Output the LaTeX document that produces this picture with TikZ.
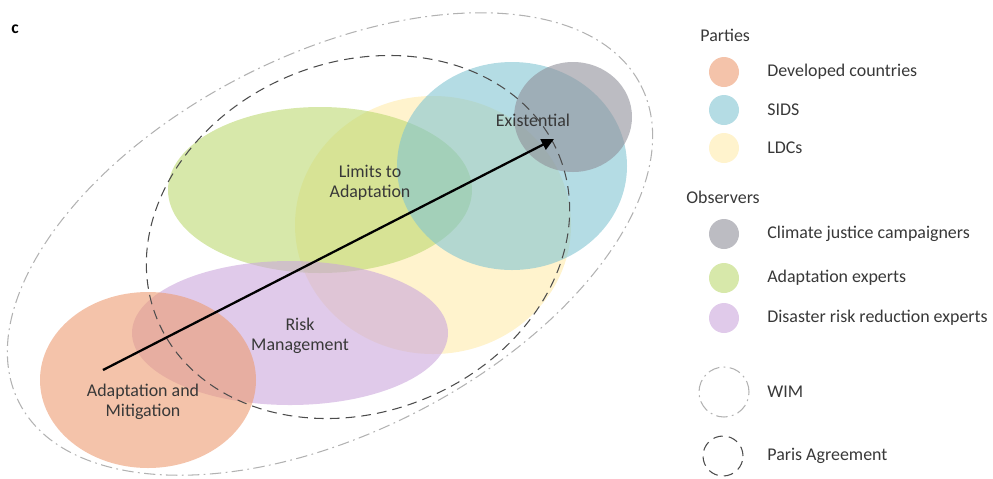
\documentclass[tikz,border=0pt]{standalone}
\usepackage{fontspec}
\setmainfont{Carlito}
\usetikzlibrary{arrows.meta}
\definecolor{developed}{RGB}{237,155,113}
\definecolor{sids}{RGB}{130,197,210}
\definecolor{ldc}{RGB}{255,235,172}
\definecolor{climate}{RGB}{143,143,153}
\definecolor{adaptexp}{RGB}{188,217,113}
\definecolor{drrexp}{RGB}{203,167,220}
\begin{document}
\begin{tikzpicture}%
	[x=0.02cm, y=-0.02cm,
	party/.style={fill opacity=0.6},
	wimline/.style={draw=black!30, line width=0.6pt, dash pattern=on 6.5pt off 2.5pt on 1pt off 2.5pt},
	parisline/.style={draw=black!70, line width=0.6pt, dash pattern=on 5.5pt off 3.5pt},
	arrow/.style={draw=black, line width=1.3pt, -{Triangle[length=7pt,width=6.5pt]}},
	zone/.style={font=\fontsize{10.2}{11.3}\selectfont, text=black!78, align=center, inner sep=0pt},
	keytext/.style={font=\fontsize{10.2}{11.3}\selectfont, text=black!78, anchor=west, inner sep=0pt},
	swatch/.style={circle, inner sep=0pt, minimum size=0.6cm, fill opacity=0.6}]
%
\useasboundingbox (0,0) rectangle (993,478);
%
%% Coordinate of the centres:
%%
\coordinate (developed) at (148, 380);
\coordinate (ldc) at (433, 225);
\coordinate (sids) at (512, 166);
\coordinate (climate) at (573, 117);
\coordinate (adaptexp) at (320, 190);
\coordinate (drrexp) at (290, 333);
\coordinate (wim) at (330, 244);
\coordinate (paris) at (358, 237);
%%
%%
%% Drawing the groups
%%
\fill[party, fill=ldc] (ldc) ellipse [x radius=138, y radius=129];
\fill[party, fill=adaptexp] (adaptexp) ellipse [x radius=152, y radius=83];
\fill[party, fill=sids] (sids) ellipse [x radius=115, y radius=104];
\fill[party, fill=drrexp] (drrexp) ellipse [x radius=158, y radius=72];
\fill[party, fill=developed] (developed) ellipse [x radius=108, y radius=88];
\fill[party, fill=climate] (climate) ellipse [x radius=59, y radius=55];
%%
%%
%% Drawing the agreements
%%
\draw[wimline, rotate around={27:(wim)}] (wim) ellipse [x radius=349, y radius=189];
\draw[parisline, rotate around={22:(paris)}] (paris) ellipse [x radius=217, y radius=175];
%%
%%
%% Drawing the labels and the arrow
%%
\node[font=\fontsize{10}{12}\selectfont\bfseries, inner sep=0pt] (panel) at (15, 29) {c};
\node[zone] (adaptmit) at (143, 402) {Adaptation and\\Mitigation};
\node[zone] (risk) at (300, 336) {Risk\\Management};
\node[zone] (limits) at (370, 183) {Limits to\\Adaptation};
\node[zone] (exist) at (533, 120) {Existential};
\coordinate (start) at (103, 370);
\coordinate (tip) at (554, 139);
\draw[arrow] (start) -- (tip);
%%
%%
%% Drawing the legend
%%
\node[keytext] (parties) at (700, 35) {Parties};
\node[swatch, fill=developed] (swdev) at (724, 72) {};
\node[keytext] (keydev) at (767, 72) {Developed countries};
\node[swatch, fill=sids] (swsids) at (724, 110) {};
\node[keytext] (keysids) at (767, 110) {SIDS};
\node[swatch, fill=ldc] (swldc) at (724, 148) {};
\node[keytext] (keyldc) at (767, 148) {LDCs};
\node[keytext] (observers) at (686, 197) {Observers};
\node[swatch, fill=climate] (swclim) at (724, 234) {};
\node[keytext] (keyclim) at (767, 234) {Climate justice campaigners};
\node[swatch, fill=adaptexp] (swadapt) at (724, 278) {};
\node[keytext] (keyadapt) at (767, 278) {Adaptation experts};
\node[swatch, fill=drrexp] (swdrr) at (724, 318) {};
\node[keytext] (keydrr) at (767, 318) {Disaster risk reduction experts};
\node[circle, wimline, inner sep=0pt, minimum size=1cm] (swwim) at (724, 392) {};
\node[keytext] (keywim) at (767, 392) {WIM};
\node[circle, parisline, inner sep=0pt, minimum size=0.8cm] (swparis) at (723, 456) {};
\node[keytext] (keyparis) at (767, 456) {Paris Agreement};
%%
%%
\end{tikzpicture}
\end{document}
